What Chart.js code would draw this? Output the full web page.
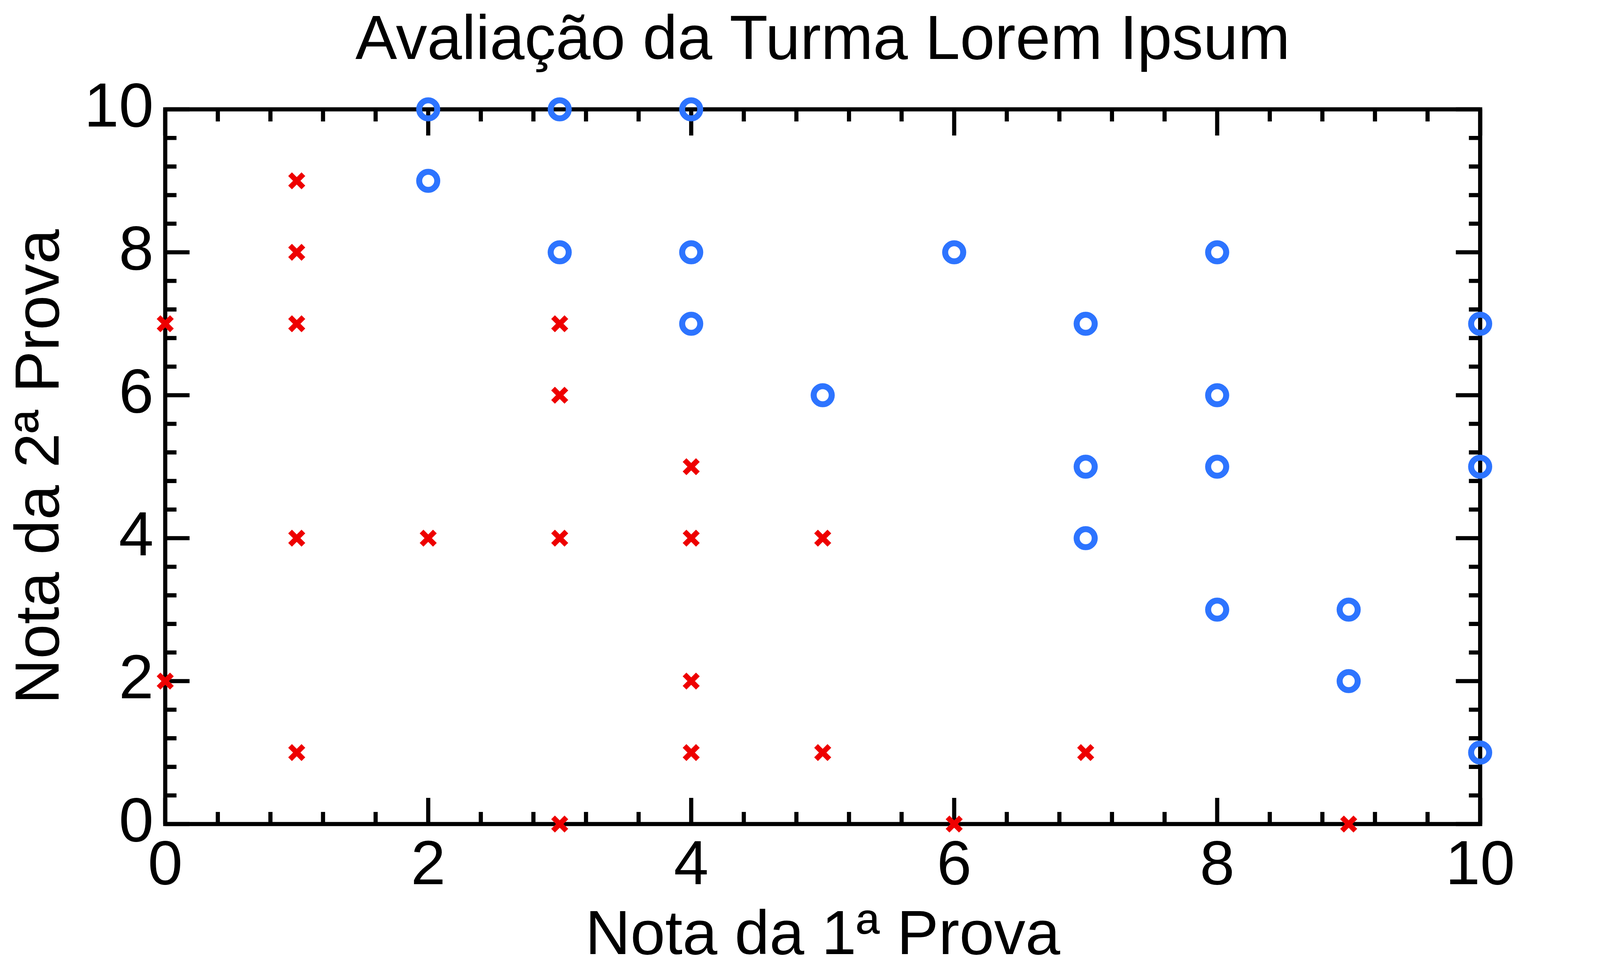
<!DOCTYPE html>
<html>
<head>
<meta charset="utf-8">
<script src="https://cdn.jsdelivr.net/npm/chart.js@4/dist/chart.umd.min.js"></script>
<style>
  html, body { margin: 0; padding: 0; background: #fff; overflow: hidden; }
  #wrap { position: fixed; left: 0; top: 0; width: 100vw; height: 100vh; }
</style>
</head>
<body>
<div id="wrap"><canvas id="c"></canvas></div>
<script>
// Nota da 1ª prova (x) e da 2ª prova (y)
const reprovadosX = [0, 0, 1, 1, 1, 1, 1, 2, 3, 3, 3, 3, 4, 4, 4, 4, 5, 5, 6, 7, 9];
const reprovadosY = [7, 2, 9, 8, 7, 4, 1, 4, 7, 6, 4, 0, 5, 4, 2, 1, 4, 1, 0, 1, 0];

const aprovadosX = [2, 2, 3, 3, 4, 4, 4, 5, 6, 7, 7, 7, 8, 8, 8, 8, 9, 9, 10, 10, 10];
const aprovadosY = [10, 9, 10, 8, 10, 8, 7, 6, 8, 7, 5, 4, 8, 6, 5, 3, 3, 2, 7, 5, 1];

const axisMin = 0, axisMax = 10;
const majorStep = 2;
const minorStep = 0.4;

const titulo = 'Avaliação da Turma Lorem Ipsum';
const tituloX = 'Nota da 1ª Prova';
const tituloY = 'Nota da 2ª Prova';

const FONT = "'Liberation Sans', Arial, Helvetica, sans-serif";

// layout was measured on a 4406x2494 picture; stretch it onto the real viewport
const SX = window.innerWidth / 4406;
const SY = window.innerHeight / 2494;
const SF = Math.sqrt(SX * SY);
const FS = 166 * SF; // font size for every text

function toPoints(xs, ys){
  return xs.map((x, i) => ({ x: x, y: ys[i] }));
}

/* frame + inward ticks on all four sides, like the old IDL plots */
const framePlugin = {
  id: 'frame',
  beforeDatasetsDraw(chart){
    const { ctx, chartArea: a } = chart;
    const xs = chart.scales.x, ys = chart.scales.y;
    ctx.save();
    ctx.strokeStyle = '#000';
    ctx.lineWidth = 11 * SF;
    ctx.lineCap = 'butt';
    ctx.strokeRect(a.left, a.top, a.right - a.left, a.bottom - a.top);

    const nMinor = Math.round((axisMax - axisMin) / minorStep);
    ctx.beginPath();
    for(let i = 0; i <= nMinor; i++){
      const v = axisMin + i * minorStep;
      const isMajor = Math.abs(v / majorStep - Math.round(v / majorStep)) < 1e-6;
      const len = isMajor ? 67 : 31;
      const x = xs.getPixelForValue(v);
      const y = ys.getPixelForValue(v);
      ctx.moveTo(x, a.bottom); ctx.lineTo(x, a.bottom - len * SY);
      ctx.moveTo(x, a.top); ctx.lineTo(x, a.top + len * SY);
      ctx.moveTo(a.left, y); ctx.lineTo(a.left + len * SX, y);
      ctx.moveTo(a.right, y); ctx.lineTo(a.right - len * SX, y);
    }
    ctx.stroke();
    ctx.restore();
  },
  afterDraw(chart){
    // title centred over the plot box, not over the whole canvas
    const { ctx, chartArea: a } = chart;
    ctx.save();
    ctx.fillStyle = '#000';
    ctx.font = FS + 'px ' + FONT;
    ctx.textAlign = 'center';
    ctx.textBaseline = 'alphabetic';
    ctx.fillText(titulo, (a.left + a.right) / 2, 151 * SY);
    ctx.restore();
  }
};

const tickFont = { family: FONT, size: FS };

new Chart(document.getElementById('c').getContext('2d'), {
  type: 'scatter',
  data: {
    datasets: [
      {
        label: 'Reprovados',
        data: toPoints(reprovadosX, reprovadosY),
        pointStyle: 'crossRot',
        pointRadius: 25 * SF,
        pointBorderWidth: 14 * SF,
        borderColor: '#EE0000',
        backgroundColor: '#EE0000',
        clip: false
      },
      {
        label: 'Aprovados',
        data: toPoints(aprovadosX, aprovadosY),
        pointStyle: 'circle',
        pointRadius: 24 * SF,
        pointBorderWidth: 16 * SF,
        borderColor: '#2D74FF',
        backgroundColor: 'rgba(0,0,0,0)',
        clip: false
      }
    ]
  },
  options: {
    responsive: true,
    maintainAspectRatio: false,
    animation: false,
    events: [],
    layout: { padding: { left: 0, right: 330 * SX, top: 280 * SY, bottom: 0 } },
    plugins: {
      legend: { display: false },
      tooltip: { enabled: false },
      title: { display: false }
    },
    scales: {
      x: {
        type: 'linear',
        min: axisMin, max: axisMax,
        grid: { display: false, drawTicks: false },
        border: { display: false },
        ticks: { stepSize: majorStep, color: '#000', font: tickFont, padding: 14 * SY, maxRotation: 0, autoSkip: false },
        title: {
          display: true, text: tituloX, color: '#000',
          font: { family: FONT, size: FS, lineHeight: 1 },
          padding: { top: 0, bottom: Math.max(0, 39 * SY - 25 * SF) }
        },
        afterFit(scale){ scale.height = 384 * SY; }
      },
      y: {
        type: 'linear',
        min: axisMin, max: axisMax,
        grid: { display: false, drawTicks: false },
        border: { display: false },
        ticks: { stepSize: majorStep, color: '#000', font: tickFont, padding: 32 * SX, autoSkip: false },
        title: {
          display: true, text: tituloY, color: '#000',
          font: { family: FONT, size: FS, lineHeight: 1 },
          padding: { top: Math.max(0, 174 * SX - 141 * SF), bottom: 0 }
        },
        afterFit(scale){ scale.width = 455 * SX; }
      }
    }
  },
  plugins: [framePlugin]
});
</script>
</body>
</html>
